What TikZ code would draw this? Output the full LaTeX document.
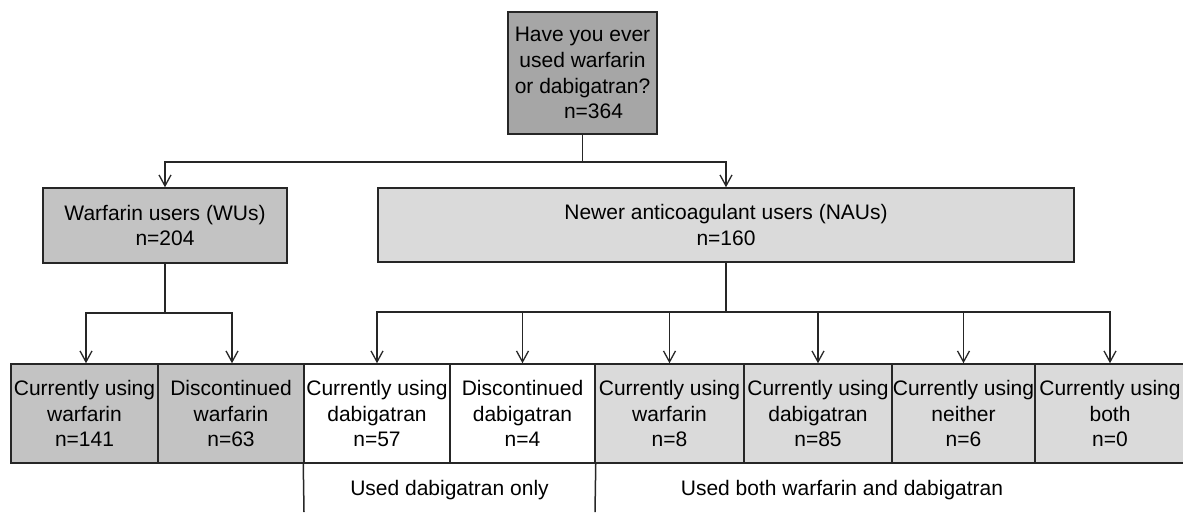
\documentclass[tikz,border=0pt]{standalone}
\usepackage{fontspec}
\setmainfont{Liberation Sans}
\usetikzlibrary{arrows.meta}
\definecolor{darkg}{HTML}{A6A6A6}
\definecolor{midg}{HTML}{C3C3C3}
\definecolor{lightg}{HTML}{DADADA}
\definecolor{edge}{HTML}{262626}
\begin{document}
\begin{tikzpicture}[x=1pt,y=-1pt,
  box/.style={draw=edge, line width=1.5pt, inner sep=0pt, align=center,
    font=\fontsize{21}{25.8}\selectfont},
  lbl/.style={inner sep=0pt, align=center, font=\fontsize{21}{25.8}\selectfont},
  conn/.style={draw=edge, line width=1.5pt},
  arr/.style={conn, -{Straight Barb[length=11pt,width=12pt,line width=1.3pt]}}]
\useasboundingbox (0,0) rectangle (1183,512);
\clip (0,0) rectangle (1183,512);
% top box
\node[box, fill=darkg, minimum width=149pt, minimum height=122pt] (top) at (582.5,73)
  {Have you ever\\used warfarin\\or dabigatran?\\\hspace*{22pt}n=364};
% second level
\node[box, fill=midg, minimum width=244pt, minimum height=75pt] (wu) at (165,225.5)
  {Warfarin users (WUs)\\n=204};
\node[box, fill=lightg, minimum width=696pt, minimum height=74pt] (nau) at (726,225)
  {Newer anticoagulant users (NAUs)\\n=160};
% bottom row
\node[box, fill=midg, minimum width=147pt, minimum height=99pt] (b1) at (84.5,413.5)
  {Currently using\\warfarin\\n=141};
\node[box, fill=midg, minimum width=146pt, minimum height=99pt] (b2) at (231,413.5)
  {Discontinued\\warfarin\\n=63};
\node[box, fill=white, minimum width=146pt, minimum height=99pt] (b3) at (377,413.5)
  {Currently using\\dabigatran\\n=57};
\node[box, fill=white, minimum width=145pt, minimum height=99pt] (b4) at (522.5,413.5)
  {Discontinued\\dabigatran\\n=4};
\node[box, fill=lightg, minimum width=149pt, minimum height=99pt] (b5) at (669.5,413.5)
  {Currently using\\warfarin\\n=8};
\node[box, fill=lightg, minimum width=148pt, minimum height=99pt] (b6) at (818,413.5)
  {Currently using\\dabigatran\\n=85};
\node[box, fill=lightg, minimum width=143pt, minimum height=99pt] (b7) at (963.5,413.5)
  {Currently using\\neither\\n=6};
\node[box, fill=lightg, minimum width=150pt, minimum height=99pt] (b8) at (1110,413.5)
  {Currently using\\both\\n=0};
% bottom labels
\node[lbl] (l1) at (449.5,490) {Used dabigatran only};
\node[lbl] (l2) at (842,490) {Used both warfarin and dabigatran};
\coordinate (e1) at (304,512);
\coordinate (e2) at (595,512);
\draw[conn] (b3.south west) -- (e1);
\draw[conn] (b4.south east) -- (e2);
% connectors
\coordinate (tj) at (582.5,162);
\draw[conn] (top.south) -- (tj);
\draw[arr] (tj) -| (wu.north);
\draw[arr] (tj) -| (nau.north);
\coordinate (wj) at (165,313);
\draw[conn] (wu.south) -- (wj);
\draw[arr] (wj) -| ([xshift=1.5pt]b1.north);
\draw[arr] (wj) -| ([xshift=1pt]b2.north);
\coordinate (nj) at (726,312);
\draw[conn] (nau.south) -- (nj);
\foreach \b in {b3,b4,b5,b6,b7,b8} {
  \draw[arr] (nj) -| (\b.north);
}
\end{tikzpicture}
\end{document}
